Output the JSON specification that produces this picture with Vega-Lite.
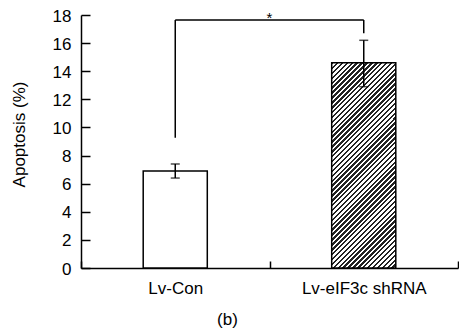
{
  "$schema": "https://vega.github.io/schema/vega-lite/v6.json",
  "width": 377,
  "height": 253,
  "autosize": "none",
  "padding": {"left": 81, "top": 15, "right": 1, "bottom": 65},
  "config": {
    "view": {"stroke": null},
    "font": "Liberation Sans",
    "axis": {"grid": false, "domainColor": "black", "domainWidth": 1.5, "tickColor": "black", "tickWidth": 1.5, "labelColor": "black", "titleColor": "black", "labelFontSize": 17, "titleFontSize": 17, "titleFontWeight": "normal", "labelFont": "Liberation Sans", "titleFont": "Liberation Sans"},
    "axisX": {"tickBand": "extent", "labelAngle": 0, "labelAlign": "center", "labelBaseline": "top", "tickSize": -7, "labelPadding": 19, "titleX": 146, "titleY": 51, "titleBaseline": "middle", "titleAlign": "center"},
    "axisY": {"tickCount": 9, "tickSize": -9, "labelPadding": 19, "labelOffset": 1, "titleX": -62, "titleY": 119, "titleAngle": 270, "titleBaseline": "middle", "titleAlign": "center"}
  },
  "datasets": {
    "bars": [
      {"group": "Lv-Con", "value": 6.9, "lo": 6.4, "hi": 7.4},
      {"group": "Lv-eIF3c shRNA", "value": 14.6, "lo": 12.9, "hi": 16.2}
    ],
    "bracketV": [
      {"group": "Lv-Con", "lo": 9.27, "hi": 17.64},
      {"group": "Lv-eIF3c shRNA", "lo": 16.7, "hi": 17.64}
    ],
    "bracketH": [
      {"from": "Lv-Con", "to": "Lv-eIF3c shRNA", "y": 17.64}
    ],
    "star": [
      {"group": "Lv-Con", "y": 17.42, "label": "*"}
    ]
  },
  "layer": [
    {
      "data": {"name": "bars"},
      "transform": [{"filter": "datum.group === 'Lv-Con'"}],
      "mark": {"type": "bar", "fill": "white", "stroke": "black", "strokeWidth": 1.5, "width": {"band": 0.34}},
      "encoding": {
        "x": {"field": "group", "type": "nominal", "sort": null, "title": "(b)",
          "scale": {"domain": ["Lv-Con", "Lv-eIF3c shRNA"], "paddingInner": 0, "paddingOuter": 0}},
        "y": {"field": "value", "type": "quantitative", "title": "Apoptosis (%)",
          "scale": {"domain": [0, 18], "nice": false, "zero": true}}
      }
    },
    {
      "data": {"name": "bars"},
      "transform": [{"filter": "datum.group !== 'Lv-Con'"}],
      "mark": {"type": "bar", "stroke": "black", "strokeWidth": 1.5, "width": {"band": 0.34},
        "fill": {"gradient": "linear", "x1": 0, "y1": 0, "x2": 0.3735, "y2": 1.1957, "stops": [
{"offset":0,"color":"#222"},{"offset":0.00909,"color":"#222"},{"offset":0.00909,"color":"#fff"},{"offset":0.01818,"color":"#fff"},
{"offset":0.01818,"color":"#222"},{"offset":0.02727,"color":"#222"},{"offset":0.02727,"color":"#fff"},{"offset":0.03636,"color":"#fff"},
{"offset":0.03636,"color":"#222"},{"offset":0.04545,"color":"#222"},{"offset":0.04545,"color":"#fff"},{"offset":0.05455,"color":"#fff"},
{"offset":0.05455,"color":"#222"},{"offset":0.06364,"color":"#222"},{"offset":0.06364,"color":"#fff"},{"offset":0.07273,"color":"#fff"},
{"offset":0.07273,"color":"#222"},{"offset":0.08182,"color":"#222"},{"offset":0.08182,"color":"#fff"},{"offset":0.09091,"color":"#fff"},
{"offset":0.09091,"color":"#222"},{"offset":0.1,"color":"#222"},{"offset":0.1,"color":"#fff"},{"offset":0.10909,"color":"#fff"},
{"offset":0.10909,"color":"#222"},{"offset":0.11818,"color":"#222"},{"offset":0.11818,"color":"#fff"},{"offset":0.12727,"color":"#fff"},
{"offset":0.12727,"color":"#222"},{"offset":0.13636,"color":"#222"},{"offset":0.13636,"color":"#fff"},{"offset":0.14545,"color":"#fff"},
{"offset":0.14545,"color":"#222"},{"offset":0.15455,"color":"#222"},{"offset":0.15455,"color":"#fff"},{"offset":0.16364,"color":"#fff"},
{"offset":0.16364,"color":"#222"},{"offset":0.17273,"color":"#222"},{"offset":0.17273,"color":"#fff"},{"offset":0.18182,"color":"#fff"},
{"offset":0.18182,"color":"#222"},{"offset":0.19091,"color":"#222"},{"offset":0.19091,"color":"#fff"},{"offset":0.2,"color":"#fff"},
{"offset":0.2,"color":"#222"},{"offset":0.20909,"color":"#222"},{"offset":0.20909,"color":"#fff"},{"offset":0.21818,"color":"#fff"},
{"offset":0.21818,"color":"#222"},{"offset":0.22727,"color":"#222"},{"offset":0.22727,"color":"#fff"},{"offset":0.23636,"color":"#fff"},
{"offset":0.23636,"color":"#222"},{"offset":0.24545,"color":"#222"},{"offset":0.24545,"color":"#fff"},{"offset":0.25455,"color":"#fff"},
{"offset":0.25455,"color":"#222"},{"offset":0.26364,"color":"#222"},{"offset":0.26364,"color":"#fff"},{"offset":0.27273,"color":"#fff"},
{"offset":0.27273,"color":"#222"},{"offset":0.28182,"color":"#222"},{"offset":0.28182,"color":"#fff"},{"offset":0.29091,"color":"#fff"},
{"offset":0.29091,"color":"#222"},{"offset":0.3,"color":"#222"},{"offset":0.3,"color":"#fff"},{"offset":0.30909,"color":"#fff"},
{"offset":0.30909,"color":"#222"},{"offset":0.31818,"color":"#222"},{"offset":0.31818,"color":"#fff"},{"offset":0.32727,"color":"#fff"},
{"offset":0.32727,"color":"#222"},{"offset":0.33636,"color":"#222"},{"offset":0.33636,"color":"#fff"},{"offset":0.34545,"color":"#fff"},
{"offset":0.34545,"color":"#222"},{"offset":0.35455,"color":"#222"},{"offset":0.35455,"color":"#fff"},{"offset":0.36364,"color":"#fff"},
{"offset":0.36364,"color":"#222"},{"offset":0.37273,"color":"#222"},{"offset":0.37273,"color":"#fff"},{"offset":0.38182,"color":"#fff"},
{"offset":0.38182,"color":"#222"},{"offset":0.39091,"color":"#222"},{"offset":0.39091,"color":"#fff"},{"offset":0.4,"color":"#fff"},
{"offset":0.4,"color":"#222"},{"offset":0.40909,"color":"#222"},{"offset":0.40909,"color":"#fff"},{"offset":0.41818,"color":"#fff"},
{"offset":0.41818,"color":"#222"},{"offset":0.42727,"color":"#222"},{"offset":0.42727,"color":"#fff"},{"offset":0.43636,"color":"#fff"},
{"offset":0.43636,"color":"#222"},{"offset":0.44545,"color":"#222"},{"offset":0.44545,"color":"#fff"},{"offset":0.45455,"color":"#fff"},
{"offset":0.45455,"color":"#222"},{"offset":0.46364,"color":"#222"},{"offset":0.46364,"color":"#fff"},{"offset":0.47273,"color":"#fff"},
{"offset":0.47273,"color":"#222"},{"offset":0.48182,"color":"#222"},{"offset":0.48182,"color":"#fff"},{"offset":0.49091,"color":"#fff"},
{"offset":0.49091,"color":"#222"},{"offset":0.5,"color":"#222"},{"offset":0.5,"color":"#fff"},{"offset":0.50909,"color":"#fff"},
{"offset":0.50909,"color":"#222"},{"offset":0.51818,"color":"#222"},{"offset":0.51818,"color":"#fff"},{"offset":0.52727,"color":"#fff"},
{"offset":0.52727,"color":"#222"},{"offset":0.53636,"color":"#222"},{"offset":0.53636,"color":"#fff"},{"offset":0.54545,"color":"#fff"},
{"offset":0.54545,"color":"#222"},{"offset":0.55455,"color":"#222"},{"offset":0.55455,"color":"#fff"},{"offset":0.56364,"color":"#fff"},
{"offset":0.56364,"color":"#222"},{"offset":0.57273,"color":"#222"},{"offset":0.57273,"color":"#fff"},{"offset":0.58182,"color":"#fff"},
{"offset":0.58182,"color":"#222"},{"offset":0.59091,"color":"#222"},{"offset":0.59091,"color":"#fff"},{"offset":0.6,"color":"#fff"},
{"offset":0.6,"color":"#222"},{"offset":0.60909,"color":"#222"},{"offset":0.60909,"color":"#fff"},{"offset":0.61818,"color":"#fff"},
{"offset":0.61818,"color":"#222"},{"offset":0.62727,"color":"#222"},{"offset":0.62727,"color":"#fff"},{"offset":0.63636,"color":"#fff"},
{"offset":0.63636,"color":"#222"},{"offset":0.64545,"color":"#222"},{"offset":0.64545,"color":"#fff"},{"offset":0.65455,"color":"#fff"},
{"offset":0.65455,"color":"#222"},{"offset":0.66364,"color":"#222"},{"offset":0.66364,"color":"#fff"},{"offset":0.67273,"color":"#fff"},
{"offset":0.67273,"color":"#222"},{"offset":0.68182,"color":"#222"},{"offset":0.68182,"color":"#fff"},{"offset":0.69091,"color":"#fff"},
{"offset":0.69091,"color":"#222"},{"offset":0.7,"color":"#222"},{"offset":0.7,"color":"#fff"},{"offset":0.70909,"color":"#fff"},
{"offset":0.70909,"color":"#222"},{"offset":0.71818,"color":"#222"},{"offset":0.71818,"color":"#fff"},{"offset":0.72727,"color":"#fff"},
{"offset":0.72727,"color":"#222"},{"offset":0.73636,"color":"#222"},{"offset":0.73636,"color":"#fff"},{"offset":0.74545,"color":"#fff"},
{"offset":0.74545,"color":"#222"},{"offset":0.75455,"color":"#222"},{"offset":0.75455,"color":"#fff"},{"offset":0.76364,"color":"#fff"},
{"offset":0.76364,"color":"#222"},{"offset":0.77273,"color":"#222"},{"offset":0.77273,"color":"#fff"},{"offset":0.78182,"color":"#fff"},
{"offset":0.78182,"color":"#222"},{"offset":0.79091,"color":"#222"},{"offset":0.79091,"color":"#fff"},{"offset":0.8,"color":"#fff"},
{"offset":0.8,"color":"#222"},{"offset":0.80909,"color":"#222"},{"offset":0.80909,"color":"#fff"},{"offset":0.81818,"color":"#fff"},
{"offset":0.81818,"color":"#222"},{"offset":0.82727,"color":"#222"},{"offset":0.82727,"color":"#fff"},{"offset":0.83636,"color":"#fff"},
{"offset":0.83636,"color":"#222"},{"offset":0.84545,"color":"#222"},{"offset":0.84545,"color":"#fff"},{"offset":0.85455,"color":"#fff"},
{"offset":0.85455,"color":"#222"},{"offset":0.86364,"color":"#222"},{"offset":0.86364,"color":"#fff"},{"offset":0.87273,"color":"#fff"},
{"offset":0.87273,"color":"#222"},{"offset":0.88182,"color":"#222"},{"offset":0.88182,"color":"#fff"},{"offset":0.89091,"color":"#fff"},
{"offset":0.89091,"color":"#222"},{"offset":0.9,"color":"#222"},{"offset":0.9,"color":"#fff"},{"offset":0.90909,"color":"#fff"},
{"offset":0.90909,"color":"#222"},{"offset":0.91818,"color":"#222"},{"offset":0.91818,"color":"#fff"},{"offset":0.92727,"color":"#fff"},
{"offset":0.92727,"color":"#222"},{"offset":0.93636,"color":"#222"},{"offset":0.93636,"color":"#fff"},{"offset":0.94545,"color":"#fff"},
{"offset":0.94545,"color":"#222"},{"offset":0.95455,"color":"#222"},{"offset":0.95455,"color":"#fff"},{"offset":0.96364,"color":"#fff"},
{"offset":0.96364,"color":"#222"},{"offset":0.97273,"color":"#222"},{"offset":0.97273,"color":"#fff"},{"offset":0.98182,"color":"#fff"},
{"offset":0.98182,"color":"#222"},{"offset":0.99091,"color":"#222"},{"offset":0.99091,"color":"#fff"},{"offset":1,"color":"#fff"}
        ]}},
      "encoding": {
        "x": {"field": "group", "type": "nominal", "sort": null, "title": "(b)"},
        "y": {"field": "value", "type": "quantitative", "title": "Apoptosis (%)"}
      }
    },
    {
      "data": {"name": "bars"},
      "mark": {"type": "rule", "color": "black", "strokeWidth": 1.5},
      "encoding": {
        "x": {"field": "group", "type": "nominal", "sort": null, "title": "(b)"},
        "y": {"field": "lo", "type": "quantitative", "title": "Apoptosis (%)"},
        "y2": {"field": "hi"}
      }
    },
    {
      "data": {"name": "bars"},
      "mark": {"type": "tick", "color": "black", "size": 9, "thickness": 1.5, "orient": "horizontal"},
      "encoding": {
        "x": {"field": "group", "type": "nominal", "sort": null, "title": "(b)"},
        "y": {"field": "lo", "type": "quantitative", "title": "Apoptosis (%)"}
      }
    },
    {
      "data": {"name": "bars"},
      "mark": {"type": "tick", "color": "black", "size": 9, "thickness": 1.5, "orient": "horizontal"},
      "encoding": {
        "x": {"field": "group", "type": "nominal", "sort": null, "title": "(b)"},
        "y": {"field": "hi", "type": "quantitative", "title": "Apoptosis (%)"}
      }
    },
    {
      "data": {"name": "bracketV"},
      "mark": {"type": "rule", "color": "black", "strokeWidth": 1.5},
      "encoding": {
        "x": {"field": "group", "type": "nominal", "sort": null, "title": "(b)"},
        "y": {"field": "lo", "type": "quantitative", "title": "Apoptosis (%)"},
        "y2": {"field": "hi"}
      }
    },
    {
      "data": {"name": "bracketH"},
      "mark": {"type": "rule", "color": "black", "strokeWidth": 1.5},
      "encoding": {
        "x": {"field": "from", "type": "nominal", "sort": null, "title": "(b)"},
        "x2": {"field": "to"},
        "y": {"field": "y", "type": "quantitative", "title": "Apoptosis (%)"}
      }
    },
    {
      "data": {"name": "star"},
      "mark": {"type": "text", "color": "black", "fontSize": 15, "baseline": "alphabetic", "align": "center"},
      "encoding": {
        "x": {"field": "group", "type": "nominal", "sort": null, "bandPosition": 1, "title": "(b)"},
        "y": {"field": "y", "type": "quantitative", "title": "Apoptosis (%)"},
        "text": {"field": "label"}
      }
    }
  ]
}
